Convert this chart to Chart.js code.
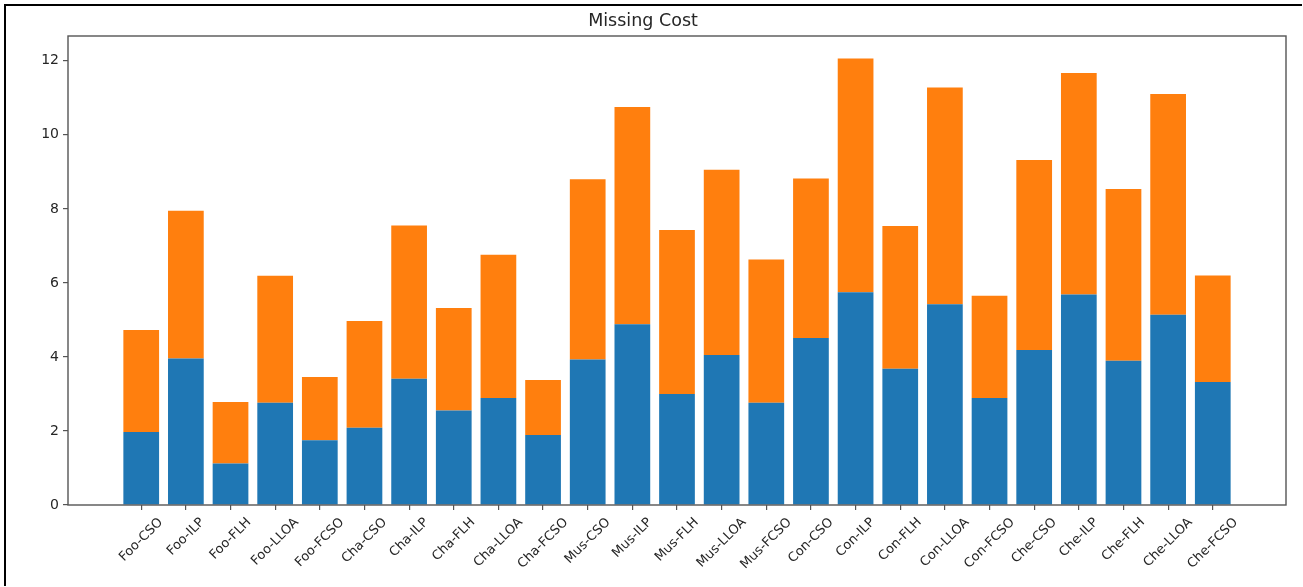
<!DOCTYPE html>
<html>
<head>
<meta charset="utf-8">
<script src="https://cdn.jsdelivr.net/npm/chart.js@4/dist/chart.umd.min.js"></script>
<style>
  html, body { margin: 0; padding: 0; background: #fff; }
  #wrap { position: relative; width: 1303px; height: 587px; overflow: hidden; }
  #frame {
    position: absolute; left: 4px; top: 4px; width: 1298px; height: 582px;
    border-left: 2px solid #000; border-top: 2px solid #000; box-sizing: border-box;
    pointer-events: none;
  }
  canvas { position: absolute; left: 0; top: 0; }
</style>
</head>
<body>
<div id="wrap">
  <canvas id="chart" width="1303" height="587"></canvas>
  <div id="frame"></div>
</div>
<script>
// Method labels, one per bar
const categories = [
  'Foo-CSO', 'Foo-ILP', 'Foo-FLH', 'Foo-LLOA', 'Foo-FCSO',
  'Cha-CSO', 'Cha-ILP', 'Cha-FLH', 'Cha-LLOA', 'Cha-FCSO',
  'Mus-CSO', 'Mus-ILP', 'Mus-FLH', 'Mus-LLOA', 'Mus-FCSO',
  'Con-CSO', 'Con-ILP', 'Con-FLH', 'Con-LLOA', 'Con-FCSO',
  'Che-CSO', 'Che-ILP', 'Che-FLH', 'Che-LLOA', 'Che-FCSO'
];

// Lower (blue) segment of each stacked bar
const lowerCost = [
  1.97, 3.96, 1.12, 2.76, 1.75,
  2.09, 3.41, 2.55, 2.89, 1.89,
  3.93, 4.88, 3.00, 4.05, 2.76,
  4.51, 5.75, 3.68, 5.42, 2.89,
  4.19, 5.69, 3.90, 5.14, 3.32
];

// Upper (orange) segment stacked on top of the blue one
const upperCost = [
  2.76, 3.99, 1.66, 3.43, 1.71,
  2.88, 4.14, 2.77, 3.87, 1.49,
  4.87, 5.87, 4.43, 5.01, 3.87,
  4.31, 6.31, 3.86, 5.86, 2.76,
  5.13, 5.98, 4.64, 5.96, 2.88
];

const yTicks = [0, 2, 4, 6, 8, 10, 12];

const SPINE = '#555';
const TEXT = '#262626';
const FONT = 'DejaVu Sans';

const toPoints = arr => arr.map((v, i) => ({ x: i, y: v }));

// Box around the plot area plus 45-degree, centre-anchored category labels
const axesDecor = {
  id: 'axesDecor',
  afterDatasetsDraw(chart) {
    const { ctx, chartArea: a, scales } = chart;
    ctx.save();
    ctx.strokeStyle = SPINE;
    ctx.lineWidth = 1.4;
    ctx.strokeRect(a.left, a.top, a.right - a.left, a.bottom - a.top);

    ctx.fillStyle = TEXT;
    ctx.font = '13px "' + FONT + '"';
    ctx.textAlign = 'center';
    ctx.textBaseline = 'middle';
    const h = 15;
    categories.forEach((lab, i) => {
      const x = scales.x.getPixelForValue(i);
      const w = ctx.measureText(lab).width;
      const half = (w + h) / (2 * Math.SQRT2);
      const cy = a.bottom + 10 + half;
      ctx.save();
      ctx.translate(x, cy);
      ctx.rotate(-Math.PI / 4);
      ctx.fillText(lab, 0, 0);
      ctx.restore();
    });
    ctx.restore();
  }
};

new Chart(document.getElementById('chart'), {
  type: 'bar',
  data: {
    datasets: [
      {
        label: 'lower',
        data: toPoints(lowerCost),
        backgroundColor: '#1f77b4',
        borderWidth: 0
      },
      {
        label: 'upper',
        data: toPoints(upperCost),
        backgroundColor: '#ff7f0e',
        borderWidth: 0
      }
    ]
  },
  options: {
    responsive: false,
    animation: false,
    devicePixelRatio: 1,
    layout: { padding: { left: 0, right: 17, top: 0, bottom: 0 } },
    datasets: {
      bar: { categoryPercentage: 1.0, barPercentage: 0.8 }
    },
    plugins: {
      legend: { display: false },
      tooltip: { enabled: false },
      title: {
        display: true,
        text: 'Missing Cost',
        color: TEXT,
        font: { family: FONT, size: 17.5, weight: 'normal', lineHeight: 1.2 },
        padding: { top: 11, bottom: 4 }
      }
    },
    scales: {
      x: {
        type: 'linear',
        stacked: true,
        offset: false,
        min: -1.64,
        max: 25.64,
        afterBuildTicks(scale) {
          scale.ticks = categories.map((_, i) => ({ value: i }));
        },
        afterFit(scale) { scale.height = 82; },
        ticks: { display: false },
        grid: {
          display: true,
          offset: false,
          drawOnChartArea: false,
          drawTicks: true,
          tickLength: 5,
          color: SPINE,
          lineWidth: 1.2
        },
        border: { display: false }
      },
      y: {
        stacked: true,
        min: 0,
        max: 12.67,
        afterBuildTicks(scale) {
          scale.ticks = yTicks.map(v => ({ value: v }));
        },
        afterFit(scale) { scale.width = 68; },
        ticks: {
          color: TEXT,
          font: { family: FONT, size: 14 },
          padding: 4,
          includeBounds: false
        },
        grid: {
          display: true,
          drawOnChartArea: false,
          drawTicks: true,
          tickLength: 5,
          color: SPINE,
          lineWidth: 1.2
        },
        border: { display: false }
      }
    }
  },
  plugins: [axesDecor]
});
</script>
</body>
</html>
